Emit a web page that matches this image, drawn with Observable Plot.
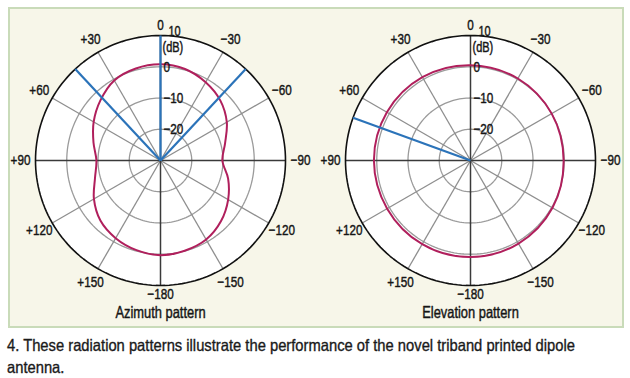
<!DOCTYPE html>
<html>
<head>
<meta charset="utf-8">
<script src="https://cdn.jsdelivr.net/npm/d3@7"></script>
<script src="https://cdn.jsdelivr.net/npm/@observablehq/plot@0.6"></script>
<style>
  html, body { margin: 0; padding: 0; background: #ffffff; width: 630px; height: 378px; overflow: hidden; }
  #frame { position: absolute; left: 8px; top: 7px; width: 612px; height: 317px; border: 2px solid #c9dbb9; background: #f7f6e9; }
  .panel { position: absolute; top: 0; }
  #caption { position: absolute; left: 7px; top: 334px; font-family: "Liberation Sans", Arial, sans-serif; font-size: 16.5px; line-height: 22px; color: #1a1a1a; -webkit-text-stroke: 0.35px #1a1a1a; }
  #caption span { display: inline-block; white-space: nowrap; transform-origin: 0 50%; }
</style>
</head>
<body>
<div id="frame"></div>
<div id="left" class="panel" style="left:0px"></div>
<div id="right" class="panel" style="left:310px"></div>
<div id="caption"><span id="cap1">4. These radiation patterns illustrate the performance of the novel triband printed dipole</span><br><span id="cap2">antenna.</span></div>
<script>
// ---- data ----
const angleTicks = [0, 30, 60, 90, 120, 150, 180, -150, -120, -90, -60, -30];
const angleLabels = ["0", "+30", "+60", "+90", "+120", "+150", "−180", "−150", "−120", "−90", "−60", "−30"];
const ringLevels = [-20, -10, 0, 10];
const ringLabels = ["−20", "−10", "0", "10"];
const dbUnit = "(dB)";
const panelTitles = ["Azimuth pattern", "Elevation pattern"];

const azimuthAngles = [0, 15, 30, 45, 60, 75, 90, 105, 120, 135, 150, 165, 180, -165, -150, -135, -120, -105, -90, -75, -60, -45, -30, -15];
const azimuthGain   = [0.8, 0.5, -0.4, -2.8, -5.3, -7.8, -9.5, -8.3, -5.4, -2.8, -1.3, -0.3, 0.3, -0.1, -0.8, -2.6, -5.0, -7.6, -10.2, -8.6, -5.5, -2.9, -1.1, 0.3];
const azimuthMarkers = [0, 43, -43];

const elevationAngles = [0, 30, 60, 90, 120, 150, 180, -150, -120, -90, -60, -30];
const elevationGain   = [0.5, 0.8, 0.9, 0.9, 0.8, 0.9, 0.9, 0.7, 0.3, -0.2, 0.0, 0.3];
const elevationMarkers = [70];

// ---- geometry helpers ----
const R = 125;
const radial = d3.scaleLinear().domain([-30, 10]).range([0, R]);
const polar = (deg, r) => {
  const a = deg * Math.PI / 180;
  return {x: -r * Math.sin(a), y: r * Math.cos(a)};
};
const ring = (db) => d3.range(0, 361, 2).map(t => ({...polar(t, radial(db)), db}));
const ink = "#161616";
const txt = {fill: ink, stroke: ink, strokeWidth: 0.45};

function panel(angles, gains, markers, title) {
  const pattern = angles.map((a, i) => polar(a, radial(gains[i])));
  const rings = ringLevels.flatMap(db => ring(db));
  const spokes = angleTicks.filter(a => a % 90 !== 0).map(a => ({a, ...polar(a, R)}));
  const axes = [0, 90].map(a => ({p: polar(a, R), q: polar(a + 180, R)}));
  const blue = markers.map(a => polar(a, radial(10)));
  const labels = angleTicks.map((a, i) => ({...polar(a, a === 180 ? 134 : a === 0 ? 135 : 140), t: angleLabels[i]}));
  const rLabels = ringLevels.map((db, i) => ({y: radial(db), t: ringLabels[i], db}));
  return Plot.plot({
    width: 320, height: 330, margin: 0,
    x: {domain: [-160, 160], range: [0, 320], axis: null},
    y: {domain: [-170, 160], range: [330, 0], axis: null},
    style: {background: "transparent", fontFamily: "'Liberation Sans', Arial, sans-serif", fontSize: "15px", color: ink},
    marks: [
      Plot.line(ring(10), {x: "x", y: "y", fill: "white", stroke: "none"}),
      Plot.line(rings.filter(d => d.db < 10), {x: "x", y: "y", z: "db", stroke: "#9b9b9b", strokeWidth: 1.3}),
      Plot.link(spokes, {x1: 0, y1: 0, x2: "x", y2: "y", stroke: "#8e8e8e", strokeWidth: 1.3}),
      Plot.link(axes, {x1: d => d.p.x, y1: d => d.p.y, x2: d => d.q.x, y2: d => d.q.y, stroke: "#3a3a3a", strokeWidth: 1.5}),
      Plot.line(ring(10), {x: "x", y: "y", stroke: "#111", strokeWidth: 1.6}),
      Plot.line(pattern, {x: "x", y: "y", curve: "catmull-rom-closed", stroke: "#b01f5c", strokeWidth: 2}),
      Plot.link(blue, {x1: 0, y1: 0, x2: "x", y2: "y", stroke: "#2b73b9", strokeWidth: 2.2}),
      Plot.text(labels, {x: "x", y: "y", text: "t", fontSize: 15, ...txt}),
      Plot.text(rLabels.filter(d => d.db < 10), {x: () => 0, y: "y", text: "t", textAnchor: "start", dx: 3, fontSize: 15, ...txt}),
      Plot.text(rLabels.filter(d => d.db === 10), {x: () => 0, y: "y", text: "t", textAnchor: "start", dx: 8, dy: -4, fontSize: 14, ...txt}),
      Plot.text(rLabels.filter(d => d.db === 10), {x: () => 0, y: "y", text: () => dbUnit, textAnchor: "start", dx: 2, dy: 12, fontSize: 14, ...txt}),
      Plot.text([title], {x: () => 0, y: () => -152, text: d => d, fontSize: 16.5, ...txt})
    ]
  });
}

function condense(svg, k) {
  svg.querySelectorAll("text").forEach(t => {
    const w = t.getComputedTextLength();
    if (w > 0) {
      t.setAttribute("textLength", (w * k).toFixed(2));
      t.setAttribute("lengthAdjust", "spacingAndGlyphs");
    }
  });
}

const s1 = panel(azimuthAngles, azimuthGain, azimuthMarkers, panelTitles[0]);
const s2 = panel(elevationAngles, elevationGain, elevationMarkers, panelTitles[1]);
document.getElementById("left").append(s1);
document.getElementById("right").append(s2);
condense(s1, 0.78);
condense(s2, 0.78);

const cap1 = document.getElementById("cap1");
const cap2 = document.getElementById("cap2");
const k = 568 / cap1.getBoundingClientRect().width;
cap1.style.transform = `scaleX(${k})`;
cap2.style.transform = `scaleX(${k})`;
</script>
</body>
</html>
